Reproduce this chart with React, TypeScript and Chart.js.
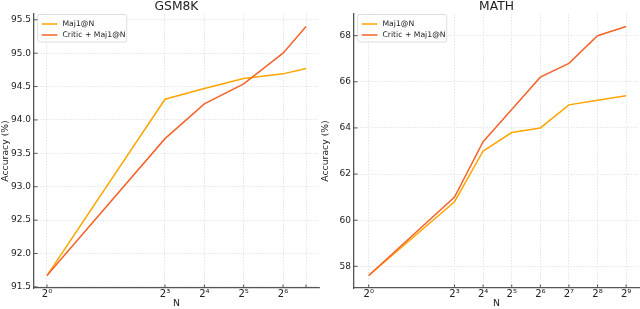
import React, { useEffect, useRef } from 'react';
import { Chart, registerables } from 'chart.js';

Chart.register(...registerables);

const FONT = "'DejaVu Sans', 'Noto Sans', sans-serif";
const TEXT = '#222222';
const SPINE = '#555555';

// Series labels and colours
const seriesLabels = ['Maj1@N', 'Critic + Maj1@N'];
const seriesColors = ['#FFA500', '#F4632A'];

// GSM8K panel
const gsmN = [1, 8, 16, 32, 64, 96];
const gsmMaj = [91.67, 94.31, 94.47, 94.62, 94.69, 94.77];
const gsmCritic = [91.67, 93.72, 94.24, 94.54, 95.0, 95.4];
const gsmXLabels = ['2⁰', '2³', '2⁴', '2⁵', '2⁶', ''];
const gsmYTicks = [91.5, 92.0, 92.5, 93.0, 93.5, 94.0, 94.5, 95.0, 95.5];

// MATH panel
const mathN = [1, 8, 16, 32, 64, 128, 256, 512];
const mathMaj = [57.6, 60.8, 63.0, 63.8, 64.0, 65.0, 65.2, 65.4];
const mathCritic = [57.6, 61.0, 63.4, 64.8, 66.2, 66.8, 68.0, 68.4];
const mathXLabels = ['2⁰', '2³', '2⁴', '2⁵', '2⁶', '2⁷', '2⁸', '2⁹'];
const mathYTicks = [58, 60, 62, 64, 66, 68];

function paddedRange(vals: number[]): [number, number] {
  const lo = Math.min(...vals);
  const hi = Math.max(...vals);
  const m = (hi - lo) * 0.05;
  return [lo - m, hi + m];
}

const titlePlugin = {
  id: 'areaTitle',
  afterDraw(chart: any, _args: any, opts: any) {
    const { ctx, chartArea } = chart;
    ctx.save();
    ctx.font = `12.3px ${FONT}`;
    ctx.fillStyle = TEXT;
    ctx.textAlign = 'center';
    ctx.textBaseline = 'middle';
    ctx.fillText(opts.text, (chartArea.left + chartArea.right) / 2, 6.5);
    ctx.restore();
  },
};

const legendPlugin = {
  id: 'mplLegend',
  afterDatasetsDraw(chart: any) {
    const { ctx, chartArea } = chart;
    const bx = chartArea.left + 3.7;
    const by = chartArea.top + 0.5;
    const bw = 89;
    const bh = 27.5;
    ctx.save();
    ctx.beginPath();
    const r = 2;
    ctx.moveTo(bx + r, by);
    ctx.lineTo(bx + bw - r, by);
    ctx.quadraticCurveTo(bx + bw, by, bx + bw, by + r);
    ctx.lineTo(bx + bw, by + bh - r);
    ctx.quadraticCurveTo(bx + bw, by + bh, bx + bw - r, by + bh);
    ctx.lineTo(bx + r, by + bh);
    ctx.quadraticCurveTo(bx, by + bh, bx, by + bh - r);
    ctx.lineTo(bx, by + r);
    ctx.quadraticCurveTo(bx, by, bx + r, by);
    ctx.closePath();
    ctx.fillStyle = 'rgba(255,255,255,0.85)';
    ctx.fill();
    ctx.strokeStyle = '#d4d4d4';
    ctx.lineWidth = 0.8;
    ctx.stroke();
    ctx.font = `7.7px ${FONT}`;
    ctx.textBaseline = 'middle';
    ctx.fillStyle = TEXT;
    chart.data.datasets.forEach((ds: any, i: number) => {
      const y = by + 9.5 + i * 11;
      ctx.beginPath();
      ctx.moveTo(bx + 4, y);
      ctx.lineTo(bx + 19.7, y);
      ctx.strokeStyle = ds.borderColor;
      ctx.lineWidth = 1.5;
      ctx.stroke();
      ctx.fillText(ds.label, bx + 24.7, y + 0.5);
    });
    ctx.restore();
  },
};

const inwardTicksPlugin = {
  id: 'inwardTicks',
  afterDraw(chart: any) {
    const { ctx, chartArea, scales } = chart;
    ctx.save();
    ctx.strokeStyle = SPINE;
    ctx.lineWidth = 1;
    scales.x.ticks.forEach((t: any) => {
      const px = scales.x.getPixelForValue(t.value);
      ctx.beginPath();
      ctx.moveTo(px, chartArea.bottom);
      ctx.lineTo(px, chartArea.bottom - 3.5);
      ctx.stroke();
    });
    scales.y.ticks.forEach((t: any) => {
      const py = scales.y.getPixelForValue(t.value);
      ctx.beginPath();
      ctx.moveTo(chartArea.left, py);
      ctx.lineTo(chartArea.left + 3.5, py);
      ctx.stroke();
    });
    ctx.restore();
  },
};

type PanelProps = {
  title: string;
  nValues: number[];
  maj: number[];
  critic: number[];
  xLabels: string[];
  yTicks: number[];
  yDigits: number;
};

function Panel({ title, nValues, maj, critic, xLabels, yTicks, yDigits }: PanelProps) {
  const ref = useRef<HTMLCanvasElement>(null);
  useEffect(() => {
    if (!ref.current) return;
    const [xlo, xhi] = paddedRange(nValues.map((n) => Math.log2(n)));
    const [ylo, yhi] = paddedRange([...maj, ...critic]);
    const series = [maj, critic];
    const chart = new Chart(ref.current, {
      type: 'line',
      data: {
        datasets: series.map((vals, i) => ({
          label: seriesLabels[i],
          data: vals.map((v, j) => ({ x: nValues[j], y: v })),
          borderColor: seriesColors[i],
          backgroundColor: seriesColors[i],
          borderWidth: 1.5,
          pointRadius: 0,
          tension: 0,
          fill: false,
          order: i === 0 ? 1 : 0,
        })),
      },
      options: {
        animation: false,
        responsive: false,
        maintainAspectRatio: false,
        devicePixelRatio: 1,
        layout: { padding: { left: 0, right: 1, top: 14, bottom: 0 } },
        plugins: {
          legend: { display: false },
          tooltip: { enabled: false },
          title: { display: false },
          areaTitle: { text: title },
        },
        scales: {
          x: {
            type: 'logarithmic',
            min: Math.pow(2, xlo),
            max: Math.pow(2, xhi),
            afterBuildTicks: (s: any) => {
              s.ticks = nValues.map((v) => ({ value: v }));
            },
            afterFit: (s: any) => {
              s.height = 21;
            },
            ticks: {
              autoSkip: false,
              maxRotation: 0,
              padding: 0,
              color: TEXT,
              font: { family: FONT, size: 10 },
              callback: (_v: any, i: number) => xLabels[i],
            },
            grid: { color: '#dedede', lineWidth: 0.8, drawTicks: false },
            border: { display: true, color: SPINE, width: 1.3, dash: [1.5, 1.5] },
            title: {
              display: true,
              text: 'N',
              color: TEXT,
              font: { family: FONT, size: 9.3, lineHeight: 1.2 },
              padding: { top: 0, bottom: 0 },
            },
          },
          y: {
            type: 'linear',
            min: ylo,
            max: yhi,
            afterBuildTicks: (s: any) => {
              s.ticks = yTicks.map((v) => ({ value: v }));
            },
            afterFit: (s: any) => {
              s.width = 34;
            },
            ticks: {
              padding: 3,
              color: TEXT,
              font: { family: FONT, size: 9 },
              callback: (v: any) => Number(v).toFixed(yDigits),
            },
            grid: { color: '#dedede', lineWidth: 0.8, drawTicks: false },
            border: { display: true, color: SPINE, width: 1.3, dash: [1.5, 1.5] },
            title: {
              display: true,
              text: 'Accuracy (%)',
              color: TEXT,
              font: { family: FONT, size: 9.3, lineHeight: 1.2 },
              padding: { top: 0, bottom: 0 },
            },
          },
        },
      } as any,
      plugins: [legendPlugin, inwardTicksPlugin, titlePlugin],
    });
    return () => chart.destroy();
  }, []);
  return (
    <canvas
      ref={ref}
      width={320}
      height={309}
      style={{ display: 'block', width: 320, height: 309 }}
    />
  );
}

export default function App() {
  return (
    <div
      style={{
        position: 'fixed',
        left: 0,
        top: 0,
        width: 640,
        height: 309,
        display: 'flex',
        background: '#ffffff',
      }}
    >
      <Panel
        title="GSM8K"
        nValues={gsmN}
        maj={gsmMaj}
        critic={gsmCritic}
        xLabels={gsmXLabels}
        yTicks={gsmYTicks}
        yDigits={1}
      />
      <Panel
        title="MATH"
        nValues={mathN}
        maj={mathMaj}
        critic={mathCritic}
        xLabels={mathXLabels}
        yTicks={mathYTicks}
        yDigits={0}
      />
    </div>
  );
}
